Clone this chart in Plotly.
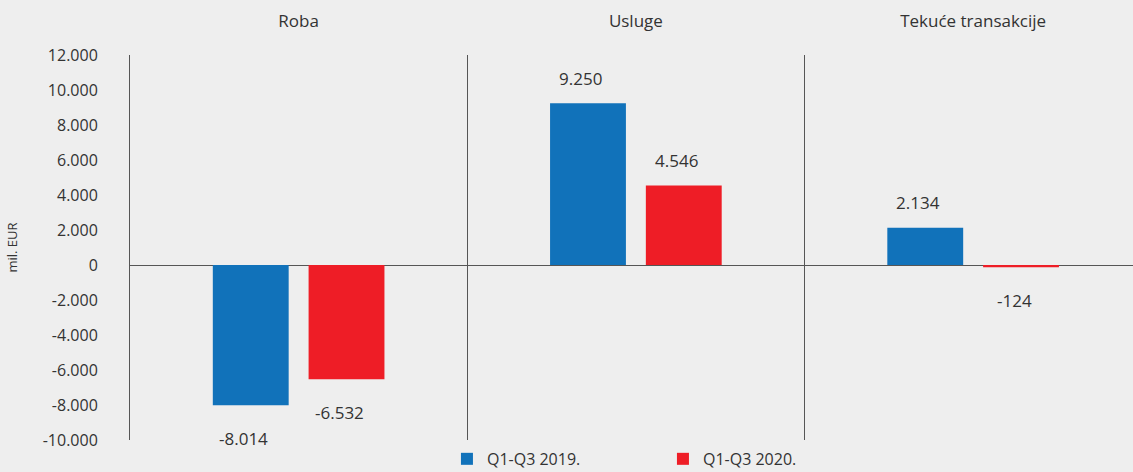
import plotly.graph_objects as go

categories = ["Roba", "Usluge", "Tekuće transakcije"]
series_names = ["Q1-Q3 2019.", "Q1-Q3 2020."]
values_2019 = [-8014, 9250, 2134]
values_2020 = [-6532, 4546, -124]
colors = ["#1172BA", "#EE1D26"]
tick_vals = [12000, 10000, 8000, 6000, 4000, 2000, 0, -2000, -4000, -6000, -8000, -10000]
tick_text = ["12.000", "10.000", "8.000", "6.000", "4.000", "2.000", "0",
             "-2.000", "-4.000", "-6.000", "-8.000", "-10.000"]

FONT = "Open Sans"
TXT = "#333333"
BG = "#EEEEEE"

fig = go.Figure()
for name, vals, col in zip(series_names, [values_2019, values_2020], colors):
    fig.add_trace(go.Bar(
        x=categories, y=vals, name=name, marker_color=col,
        marker_line_width=0, cliponaxis=False,
    ))

def fmt(v):
    s = f"{abs(v):,}".replace(",", ".")
    return ("-" if v < 0 else "") + s

annotations = []
for vals, xs in zip([values_2019, values_2020], [-48, 48]):
    for c, v in zip(categories, vals):
        annotations.append(dict(
            x=c, y=v, xref="x", yref="y", text=fmt(v), showarrow=False,
            xshift=xs - 7, yshift=(25 if v >= 0 else -33),
            font=dict(family=FONT, size=17, color=TXT),
        ))

fig.update_layout(
    width=1133, height=472,
    margin=dict(l=130, r=0, t=55, b=32, autoexpand=False),
    paper_bgcolor=BG, plot_bgcolor=BG,
    barmode="group", bargap=0.432, bargroupgap=0.208,
    font=dict(family=FONT, size=15, color=TXT),
    showlegend=True,
    legend=dict(
        orientation="h", x=0.316, xanchor="left", y=-0.005, yanchor="top",
        entrywidth=171, entrywidthmode="pixels",
        font=dict(family=FONT, size=16, color=TXT),
        bgcolor="rgba(0,0,0,0)",
    ),
    annotations=annotations,
    xaxis=dict(
        side="top", type="category", range=[-0.5, 2.474],
        showgrid=True, tickson="boundaries", gridcolor="#555555", gridwidth=1,
        ticks="", showline=False, zeroline=False, ticklabelstandoff=24,
        tickfont=dict(family=FONT, size=17, color=TXT),
        fixedrange=True,
    ),
    yaxis=dict(
        range=[-10000, 12000], tickvals=tick_vals, ticktext=tick_text,
        showgrid=False, zeroline=True, zerolinecolor="#555555", zerolinewidth=1,
        showline=True, linecolor="#555555", linewidth=1,
        ticks="", ticklabelstandoff=28,
        tickfont=dict(family=FONT, size=16, color=TXT),
        title=dict(text="mil. EUR", font=dict(family=FONT, size=13, color=TXT), standoff=22),
    ),
)

fig.write_html(
    "out.html",
    config={"displayModeBar": False},
    post_script="document.body.style.margin='0';document.body.style.background='#EEEEEE';",
)
